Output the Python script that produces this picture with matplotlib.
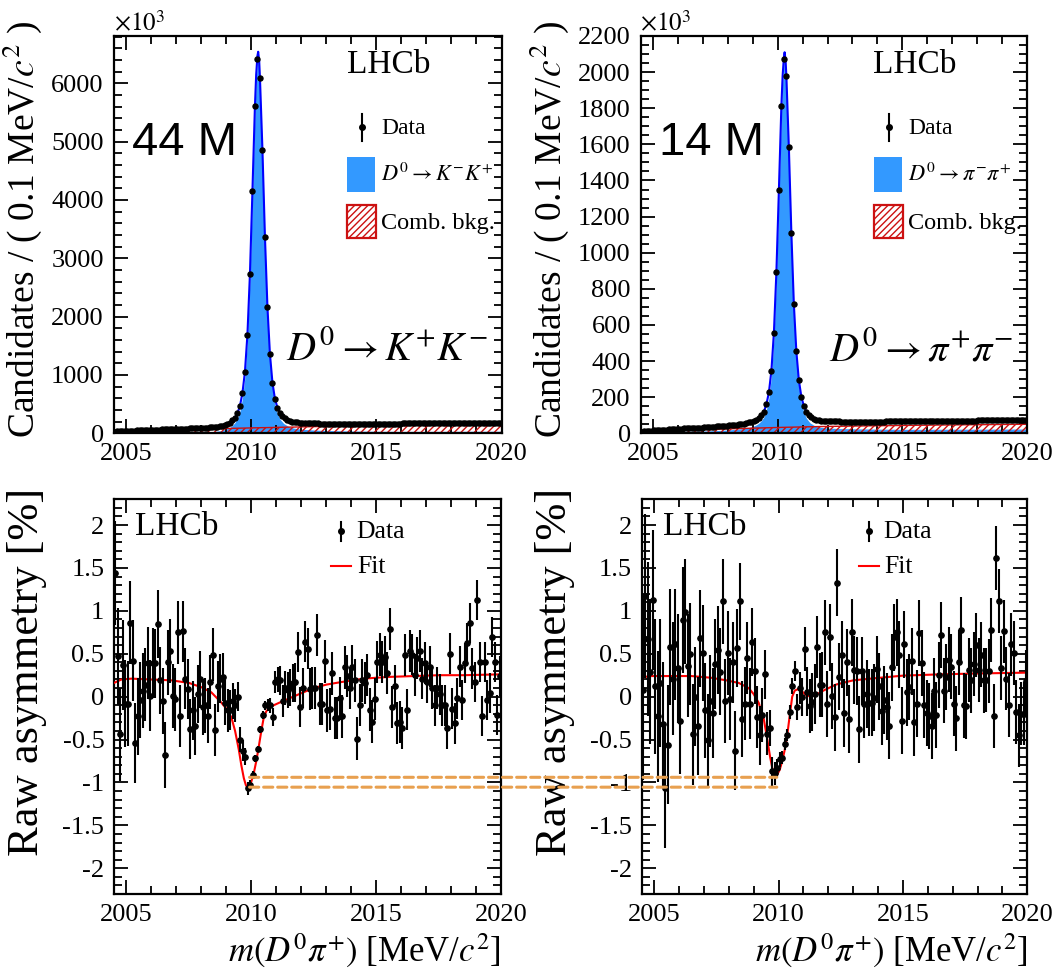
import numpy as np
import matplotlib
matplotlib.use('Agg')
import matplotlib.pyplot as plt
from matplotlib.patches import Rectangle, ConnectionPatch
from matplotlib.ticker import MultipleLocator, FuncFormatter

plt.rcParams['font.family'] = ['Liberation Serif', 'DejaVu Serif']
plt.rcParams['mathtext.fontset'] = 'stix'
plt.rcParams['axes.unicode_minus'] = False
plt.rcParams['hatch.linewidth'] = 1.0

# centres of the 0.1 MeV/c2 bins, 2004.5 - 2020
mass_bins = np.linspace(2004.55, 2019.95, 155)

# candidates per bin, in units of 10^3
kk_counts = [27, 31, 34, 37, 39, 41, 43, 45, 47, 49,
             51, 53, 55, 57, 58, 60, 62, 63, 65, 66,
             68, 69, 71, 72, 74, 75, 77, 78, 80, 81,
             83, 85, 87, 89, 91, 93, 96, 99, 102, 106,
             110, 116, 123, 132, 145, 162, 185, 220, 268, 343,
             468, 686, 1051, 1690, 2726, 4149, 5606, 6417, 6097, 4857,
             3366, 2160, 1354, 868, 588, 439, 345, 290, 255, 230,
             213, 202, 193, 187, 182, 178, 175, 173, 171, 170,
             169, 168, 167, 166, 166, 165, 165, 164, 164, 164,
             163, 163, 163, 163, 163, 163, 163, 163, 163, 163,
             163, 164, 164, 164, 164, 165, 165, 165, 165, 166,
             166, 166, 167, 167, 167, 168, 168, 168, 169, 169,
             170, 170, 170, 171, 171, 172, 172, 173, 173, 174,
             174, 175, 175, 176, 176, 177, 177, 178, 178, 179,
             179, 180, 180, 180, 181, 181, 182, 182, 183, 183,
             184, 184, 184, 185, 185]

pp_counts = [9, 11, 12.5, 14, 15, 16, 17, 18, 19, 20,
             21, 22, 23, 24, 25, 25.5, 26, 27, 28, 28.5,
             29, 30, 31, 31.5, 32, 33, 34, 35, 36, 37,
             38, 39, 40, 41, 42, 43.5, 45, 46.5, 48, 50,
             52, 54, 57, 60, 64, 69, 76, 86, 100, 120,
             161, 227, 347, 557, 893, 1347, 1814, 2072, 1978, 1583,
             1111, 716, 454, 295, 203, 151, 120, 100, 88, 80,
             75, 72, 70, 68.5, 67.5, 67, 66.5, 66, 65.5, 65.5,
             65, 65, 65, 65, 65, 65, 65, 65, 65, 65,
             65, 65, 65, 65, 65, 65, 65, 65, 65.5, 65.5,
             65.5, 65.5, 66, 66, 66, 66, 66.5, 66.5, 66.5, 66.5,
             67, 67, 67, 67, 67.5, 67.5, 67.5, 68, 68, 68,
             68.5, 68.5, 68.5, 69, 69, 69, 69.5, 69.5, 69.5, 70,
             70, 70, 70.5, 70.5, 70.5, 71, 71, 71, 71.5, 71.5,
             71.5, 72, 72, 72, 72.5, 72.5, 72.5, 73, 73, 73,
             73.5, 73.5, 73.5, 74, 74]

# raw asymmetry per bin [%]
kk_asym = [1.44, 0.47, -0.44, 0.37, -0.08, -0.08, 0.86, 0.42, -0.54, -0.23,
           -0.04, 0.07, 0.14, 0.39, 0.01, 0.39, 0.39, 0.85, 0.19, -0.05,
           -0.68, 0.40, 0.53, 0.01, -0.03, 0.75, -0.23, 0.76, 0.21, 0.09,
           -0.38, -0.16, -0.34, 0.03, 0.20, -0.12, -0.10, -0.22, 0.17, 0.49,
           -0.39, 0.12, 0.21, 0.23, -0.07, -0.16, -0.16, -0.05, -0.10, 0.0,
           -0.50, -0.63, -0.70, -1.07, -1.03, -0.91, -0.72, -0.61, -0.38, -0.21,
           -0.10, -0.10, -0.10, -0.24, 0.17, 0.20, 0.19, -0.05, 0.10, 0.08,
           0.11, 0.16, 0.17, 0.52, -0.12, 0.10, 0.64, 0.56, 0.09, 0.10,
           0.10, 0.72, -0.08, -0.09, 0.41, -0.16, -0.14, 0.27, -0.25, -0.25,
           -0.02, -0.23, 0.34, 0.24, 0.10, 0.35, 0.19, -0.49, -0.10, 0.19,
           0.16, 0.25, -0.15, -0.29, -0.03, 0.40, 0.49, 0.40, 0.46, 0.28,
           0.79, -0.12, 0.12, -0.31, -0.30, -0.37, 0.49, -0.15, 0.53, 0.49,
           0.25, 0.45, 0.53, 0.21, 0.39, 0.17, 0.35, 0.10, -0.10, 0.10,
           0.03, -0.10, -0.10, -0.37, 0.50, -0.14, -0.31, -0.02, 0.35, -0.04,
           0.39, 0.62, 0.86, 0.33, 0.17, 1.13, 0.40, -0.23, 0.40, -0.04,
           0.04, 0.69, 0.40, -0.21, 0.24]

pp_asym = [0.08, 1.17, 0.67, 0.29, 1.13, 0.12, -0.23, 0.16, -0.32, -1.06,
           -0.56, 0.58, 0.21, 0.61, 0.33, -0.28, 0.89, 0.99, 0.36, 0.50,
           -0.44, 0.0, -0.34, 0.68, 0.51, -0.16, -0.51, -0.05, -0.19, 0.38,
           0.54, 0.29, 1.11, -0.05, 0.51, -0.03, 0.40, -0.63, 0.57, 1.11,
           -0.26, -0.08, 0.45, -0.08, 0.64, 0.30, -0.24, -0.45, -0.21, 0.26,
           -0.43, -0.37, -0.87, -0.89, -0.83, -0.73, -0.71, -0.55, -0.45, -0.18,
           0.12, 0.30, -0.12, 0.10, 0.0, 0.56, 0.06, -0.11, -0.06, 0.03,
           0.58, 0.14, 0.14, 0.75, -0.09, 0.69, 0.01, -0.24, 1.33, 0.23,
           0.49, -0.19, 0.40, -0.26, 0.75, 0.31, 0.30, -0.38, 0.30, -0.09,
           0.03, -0.07, -0.07, -0.01, 0.32, 0.12, -0.17, -0.04, -0.12, -0.34,
           0.34, 0.69, 0.75, 0.49, -0.28, 0.61, 0.05, 0.11, 0.41, -0.30,
           -0.08, 0.74, 0.39, -0.10, -0.19, -0.23, -0.34, 0.07, -0.21, 0.25,
           0.72, 0.07, 0.23, 0.43, 0.35, -0.08, -0.25, 0.40, 0.78, -0.10,
           -0.11, 0.31, 0.19, 0.38, 0.60, 0.31, 0.49, 0.19, 0.19, 0.30,
           0.78, -0.23, 1.62, 1.11, 0.33, 0.76, 0.21, -0.10, 0.61, 0.51,
           -0.18, -0.45, -0.20, -0.20, 0.18]

# mass fit curves (total model and combinatorial background), units of 10^3
fit_x = [2004.5, 2005.0, 2005.5, 2006.0, 2006.5, 2007.0, 2007.5, 2008.0, 2008.5, 2008.8,
         2009.0, 2009.15, 2009.25, 2009.35, 2009.45, 2009.55, 2009.65, 2009.75, 2009.85, 2009.95,
         2010.05, 2010.15, 2010.2, 2010.25, 2010.28, 2010.32, 2010.35, 2010.45, 2010.55, 2010.65,
         2010.75, 2010.85, 2010.95, 2011.05, 2011.15, 2011.3, 2011.5, 2011.7, 2012.0, 2012.5,
         2013.0, 2014.0, 2015.0, 2016.0, 2017.0, 2018.0, 2019.0, 2020.0]
kk_fit_total = [25, 40, 50, 59, 67, 74.5, 82, 92, 108, 128,
                155, 185, 220, 268, 343, 468, 686, 1051, 1690, 2726,
                4149, 5606, 6150, 6470, 6540, 6380, 6097, 4857, 3366, 2160,
                1354, 868, 588, 439, 345, 272, 221, 197, 180, 170,
                166, 163, 164, 167, 171, 176, 181, 185]
kk_fit_bkg = [0, 22, 34, 44, 52, 59, 66, 72, 78, 81,
              83, 84, 85, 86, 87, 88, 89, 90, 91, 92,
              93, 94, 94, 95, 95, 95, 96, 97, 97, 98,
              99, 100, 101, 102, 103, 104, 106, 107, 110, 114,
              118, 124, 129, 134, 138, 142, 146, 150]
pp_fit_total = [8, 15.5, 20.5, 25.2, 28.8, 32.5, 37.5, 42.8, 51, 58.5,
                66, 76, 86, 100, 120, 161, 227, 347, 557, 893,
                1347, 1814, 1980, 2080, 2110, 2060, 1978, 1583, 1111, 716,
                454, 295, 203, 151, 120, 94, 77.5, 71, 67.2, 65.2,
                65, 65, 65.5, 67.2, 69, 70.5, 72.2, 74]
pp_fit_bkg = [0, 7, 11, 14.5, 17.5, 20, 22.5, 24.5, 26.5, 27.5,
              28.5, 29, 29.5, 29.8, 30.2, 30.6, 31, 31.3, 31.7, 32,
              32.4, 32.7, 32.9, 33, 33.1, 33.3, 33.4, 33.7, 34, 34.3,
              34.6, 34.9, 35.2, 35.5, 35.8, 36.2, 36.8, 37.3, 38, 39,
              40, 41.8, 43.5, 45, 46.4, 47.7, 49, 50]

# asymmetry fit curves [%]
kk_asym_fit_x = [2004.5, 2004.8, 2005.2, 2006.0, 2006.8, 2007.5, 2008.0, 2008.4, 2008.8, 2009.0,
                 2009.2, 2009.35, 2009.5, 2009.6, 2009.7, 2009.78, 2009.85, 2009.92, 2010.0, 2010.1,
                 2010.2, 2010.3, 2010.4, 2010.5, 2010.6, 2010.7, 2010.9, 2011.2, 2011.6, 2012.0,
                 2012.5, 2013.0, 2013.6, 2014.5, 2015.5, 2016.5, 2017.5, 2018.5, 2020.0]
kk_asym_fit = [0.16, 0.20, 0.21, 0.20, 0.19, 0.16, 0.11, 0.05, -0.07, -0.14,
               -0.24, -0.40, -0.62, -0.80, -0.95, -1.03, -1.06, -1.05, -0.99, -0.89,
               -0.75, -0.58, -0.40, -0.24, -0.17, -0.14, -0.10, -0.06, -0.01, 0.04,
               0.10, 0.14, 0.17, 0.21, 0.23, 0.24, 0.25, 0.25, 0.26]
pp_asym_fit_x = [2004.5, 2004.8, 2005.5, 2006.5, 2007.3, 2007.9, 2008.4, 2008.8, 2009.0, 2009.2,
                 2009.4, 2009.55, 2009.66, 2009.78, 2009.87, 2009.95, 2010.05, 2010.15, 2010.25, 2010.35,
                 2010.45, 2010.55, 2010.65, 2010.8, 2010.95, 2011.1, 2011.28, 2011.5, 2011.8, 2012.3,
                 2013.0, 2013.7, 2015.0, 2016.5, 2018.0, 2020.0]
pp_asym_fit = [0.22, 0.24, 0.24, 0.24, 0.22, 0.19, 0.16, 0.10, 0.03, -0.07,
               -0.25, -0.50, -0.70, -0.88, -0.93, -0.91, -0.85, -0.75, -0.62, -0.45,
               -0.22, 0.0, 0.07, 0.09, 0.06, 0.02, 0.0, 0.02, 0.07, 0.14,
               0.19, 0.21, 0.245, 0.26, 0.27, 0.28]

# levels of the two asymmetry minima, joined by dashed lines
dip_levels = [-0.94, -1.055]
dip_mass = 2009.93

SIGNAL_BLUE = '#3399ff'
BKG_RED = '#cc1111'
FIT_RED = '#ff0000'
DIP_ORANGE = '#e8a050'

W, H = 1057, 968


def rect(left, top, right, bottom):
    return [left / W, 1 - bottom / H, (right - left) / W, (bottom - top) / H]


# axes fraction from a pixel offset measured from the top-left corner of the axes
def at(ax, dx, dy):
    pos = ax.get_position()
    return dx / (pos.width * W), 1 - dy / (pos.height * H)


def style_axes(ax, ymajor, yminor):
    ax.set_xlim(2004.5, 2020)
    ax.xaxis.set_major_locator(MultipleLocator(5))
    ax.xaxis.set_minor_locator(MultipleLocator(1))
    ax.yaxis.set_major_locator(MultipleLocator(ymajor))
    ax.yaxis.set_minor_locator(MultipleLocator(yminor))
    ax.tick_params(which='both', direction='in', top=True, right=True, labelsize=19, width=1.3)
    ax.tick_params(which='major', length=10, pad=7)
    ax.tick_params(which='minor', length=5.5)
    for sp in ax.spines.values():
        sp.set_linewidth(1.6)


def legend_data_marker(ax, dx, dy, half):
    x, y = at(ax, dx, dy)
    _, y0 = at(ax, dx, dy - half)
    _, y1 = at(ax, dx, dy + half)
    ax.plot([x, x], [y0, y1], color='black', lw=1.5, transform=ax.transAxes, clip_on=False)
    ax.plot([x], [y], 'o', color='black', ms=4, transform=ax.transAxes, clip_on=False)


def legend_box(ax, dx0, dy0, dx1, dy1, **kw):
    x0, y1 = at(ax, dx0, dy0)
    x1, y0 = at(ax, dx1, dy1)
    ax.add_patch(Rectangle((x0, y0), x1 - x0, y1 - y0, transform=ax.transAxes, clip_on=False, **kw))


def legend_text(ax, dx, dy, label, size):
    x, y = at(ax, dx, dy)
    ax.text(x, y, label, transform=ax.transAxes, fontsize=size, ha='left', va='center')


# Draws the mass distribution with the fit components
def mass_panel(ax, counts, fit_total, fit_bkg, ymax, ymajor, yminor, signal_label, channel, nsig):
    total = np.array(fit_total)
    bkg = np.array(fit_bkg)
    ax.fill_between(fit_x, 0, total - bkg, color=SIGNAL_BLUE, lw=0, zorder=1)
    ax.fill_between(fit_x, 0, bkg, facecolor='none', edgecolor=BKG_RED, hatch='/////', lw=0, zorder=2)
    ax.plot(fit_x, bkg, color=BKG_RED, lw=1.0, zorder=2)
    ax.plot(fit_x, total, color='blue', lw=1.5, zorder=3)
    cnt = np.array(counts, dtype=float)
    ax.errorbar(mass_bins, cnt, yerr=np.sqrt(cnt * 1000) / 1000, fmt='o', color='black',
                ms=3.6, lw=1.3, zorder=4)
    style_axes(ax, ymajor, yminor)
    ax.set_ylim(0, ymax)
    ax.set_ylabel('Candidates / ( 0.1 MeV/$c^2$ )', fontsize=27, loc='top')
    ax.yaxis.set_label_coords(-0.18, 1.04)
    ax.text(0.0, 1.012, r'$\times10^{3}$', transform=ax.transAxes, fontsize=18, ha='left', va='baseline')
    ax.text(0.602, 0.908, 'LHCb', transform=ax.transAxes, fontsize=24, ha='left', va='baseline')
    ax.text(0.047, 0.731, nsig, transform=ax.transAxes, fontsize=34, ha='left', va='center',
            family='Liberation Sans')
    ax.text(0.965, 0.184, channel, transform=ax.transAxes, fontsize=29, ha='right', va='baseline')
    # legend
    legend_data_marker(ax, 248.5, 91, 13.5)
    legend_text(ax, 267.5, 92, 'Data', 17)
    legend_box(ax, 233.5, 121, 261.5, 156, facecolor=SIGNAL_BLUE, edgecolor='none')
    legend_text(ax, 267.5, 139, signal_label, 16)
    legend_box(ax, 233.5, 169, 262.5, 202, facecolor='white', edgecolor=BKG_RED, hatch='/////', lw=1.6)
    legend_text(ax, 267.5, 187, 'Comb. bkg.', 17.5)


# Draws the raw asymmetry with its fit
def asym_panel(ax, counts, asym, fit_x_asym, fit_y_asym):
    err = 100 / np.sqrt(np.array(counts, dtype=float) * 1000)
    ax.plot(fit_x_asym, fit_y_asym, color=FIT_RED, lw=1.5, zorder=3)
    ax.errorbar(mass_bins, asym, yerr=err, fmt='o', color='black', ms=3.8, lw=1.5, zorder=4)
    style_axes(ax, 0.5, 0.1)
    ax.set_ylim(-2.3, 2.3)
    ax.yaxis.set_major_formatter(FuncFormatter(lambda v, p: '%g' % round(v, 2)))
    ax.set_ylabel('Raw asymmetry [%]', fontsize=32, loc='top')
    ax.yaxis.set_label_coords(-0.172, 1.03)
    ax.set_xlabel('$m(D^0\\pi^{+})$ [MeV/$c^2$]', fontsize=25, loc='right')
    ax.xaxis.set_label_coords(1.0, -0.095)
    ax.text(0.054, 0.91, 'LHCb', transform=ax.transAxes, fontsize=24, ha='left', va='baseline')
    # legend
    legend_data_marker(ax, 227, 31.7, 9.5)
    legend_text(ax, 242, 32.5, 'Data', 18.5)
    xa, ya = at(ax, 217, 66.7)
    xb, _ = at(ax, 237, 66.7)
    ax.plot([xa, xb], [ya, ya], color=FIT_RED, lw=1.5, transform=ax.transAxes, clip_on=False)
    legend_text(ax, 243, 67.5, 'Fit', 18.5)


fig = plt.figure(figsize=(W / 100, H / 100), dpi=100)
ax_kk = fig.add_axes(rect(113.5, 36, 501.5, 433.3))
ax_pp = fig.add_axes(rect(640.5, 36, 1027, 433.3))
ax_kk_a = fig.add_axes(rect(114, 499.3, 501, 894))
ax_pp_a = fig.add_axes(rect(641.7, 499.3, 1027.3, 894))

mass_panel(ax_kk, kk_counts, kk_fit_total, kk_fit_bkg, 6810, 1000, 200,
           r'$D^0 \rightarrow K^{-}K^{+}$', r'$D^0 \rightarrow K^{+}K^{-}$', '44 M')
mass_panel(ax_pp, pp_counts, pp_fit_total, pp_fit_bkg, 2200, 200, 50,
           r'$D^0 \rightarrow \pi^{-}\pi^{+}$', r'$D^0 \rightarrow \pi^{+}\pi^{-}$', '14 M')
asym_panel(ax_kk_a, kk_counts, kk_asym, kk_asym_fit_x, kk_asym_fit)
asym_panel(ax_pp_a, pp_counts, pp_asym, pp_asym_fit_x, pp_asym_fit)

# dashed lines joining the two minima
for level in dip_levels:
    con = ConnectionPatch(xyA=(dip_mass, level), coordsA=ax_kk_a.transData,
                          xyB=(dip_mass, level), coordsB=ax_pp_a.transData,
                          color=DIP_ORANGE, lw=2.2, linestyle=(0, (3, 1.6)), zorder=10)
    fig.add_artist(con)

fig.savefig('out.png', dpi=100)
